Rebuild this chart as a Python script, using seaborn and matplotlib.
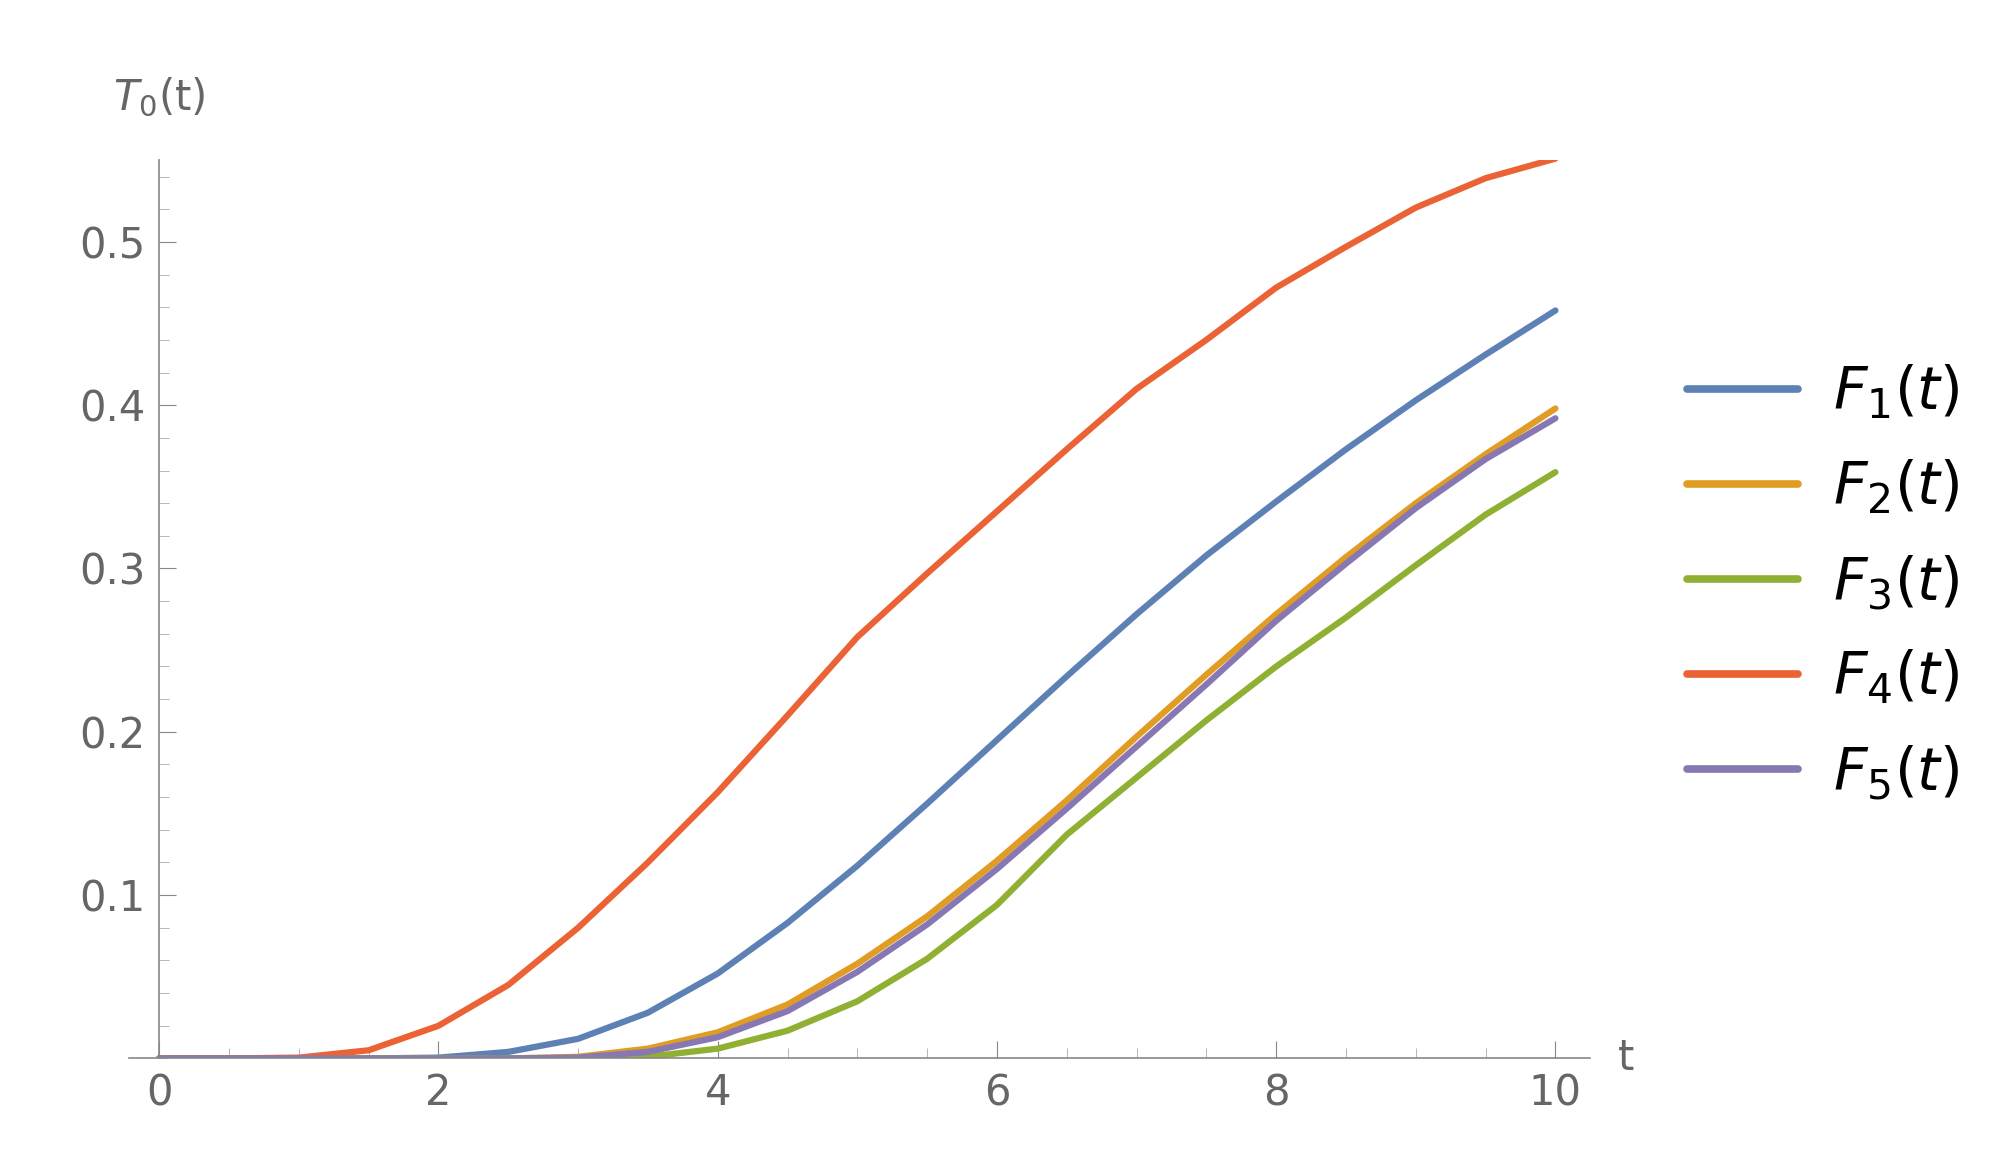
import numpy as np
import pandas as pd
import seaborn as sns
import matplotlib.pyplot as plt
from matplotlib.ticker import MultipleLocator

t = [i * 0.5 for i in range(21)]
F1 = [0,0,0,0,0.0005,0.004,0.012,0.028,0.052,0.083,0.118,0.156,0.195,0.234,0.272,0.308,0.341,0.373,0.403,0.431,0.458]
F2 = [0,0,0,0,0,0,0.001,0.006,0.016,0.033,0.058,0.087,0.121,0.158,0.197,0.235,0.272,0.307,0.340,0.370,0.398]
F3 = [0,0,0,0,0,0,0,0.001,0.006,0.017,0.035,0.061,0.094,0.137,0.172,0.207,0.240,0.270,0.302,0.333,0.359]
F4 = [0,0,0.0005,0.005,0.020,0.045,0.080,0.120,0.163,0.210,0.258,0.297,0.335,0.373,0.410,0.440,0.472,0.497,0.521,0.539,0.551]
F5 = [0,0,0,0,0,0,0.0005,0.004,0.013,0.029,0.053,0.082,0.116,0.153,0.191,0.229,0.268,0.303,0.337,0.367,0.392]
names = ["$F_1(t)$", "$F_2(t)$", "$F_3(t)$", "$F_4(t)$", "$F_5(t)$"]
colors = ["#5e81b5", "#e19c24", "#8fb032", "#eb6235", "#8778b3"]

rows = []
for n, s in zip(names, [F1, F2, F3, F4, F5]):
    for x, y in zip(t, s):
        rows.append((x, y, n))
df = pd.DataFrame(rows, columns=["t", "v", "series"])

sns.set_style("white")
plt.rcParams['font.family'] = ['DejaVu Sans']
fig = plt.figure(figsize=(20.08, 11.56), dpi=100)
ax = fig.add_axes([0.064, 0.0844, 0.728, 0.777])
sns.lineplot(data=df, x="t", y="v", hue="series", palette=colors, linewidth=4.5, ax=ax)
ax.set_xlim(-0.22, 10.25)
ax.set_ylim(0, 0.55)
ax.spines['left'].set_position(('data', 0))
for s in ['top', 'right']:
    ax.spines[s].set_visible(False)
for s in ['left', 'bottom']:
    ax.spines[s].set_color('#888888')
    ax.spines[s].set_linewidth(1.2)
ax.set_xticks([0, 2, 4, 6, 8, 10])
ax.set_yticks([0.1, 0.2, 0.3, 0.4, 0.5])
ax.set_yticklabels(["0.1", "0.2", "0.3", "0.4", "0.5"])
ax.xaxis.set_minor_locator(MultipleLocator(0.5))
ax.yaxis.set_minor_locator(MultipleLocator(0.02))
ax.tick_params(axis='both', which='major', direction='in', length=12, color='#888888',
               labelsize=30, labelcolor='#666666', bottom=True, left=True, pad=10)
ax.tick_params(axis='both', which='minor', direction='in', length=7, color='#aaaaaa', bottom=True, left=True)
ax.set_xlabel("")
ax.set_ylabel("")
ax.text(10.45, 0, "t", fontsize=30, color='#666666', va='center', ha='left')
ax.text(0, 0.575, "$T_0$(t)", fontsize=30, color='#666666', ha='center', va='bottom')
leg = ax.legend(loc='center left', bbox_to_anchor=(1.03, 0.53), frameon=False, fontsize=42,
          handlelength=1.9, labelspacing=0.62, handletextpad=0.6)
for txt in leg.get_texts():
    txt.set_color('black')
for line in leg.get_lines():
    line.set_linewidth(5.5)
fig.savefig("out.png", dpi=100)
